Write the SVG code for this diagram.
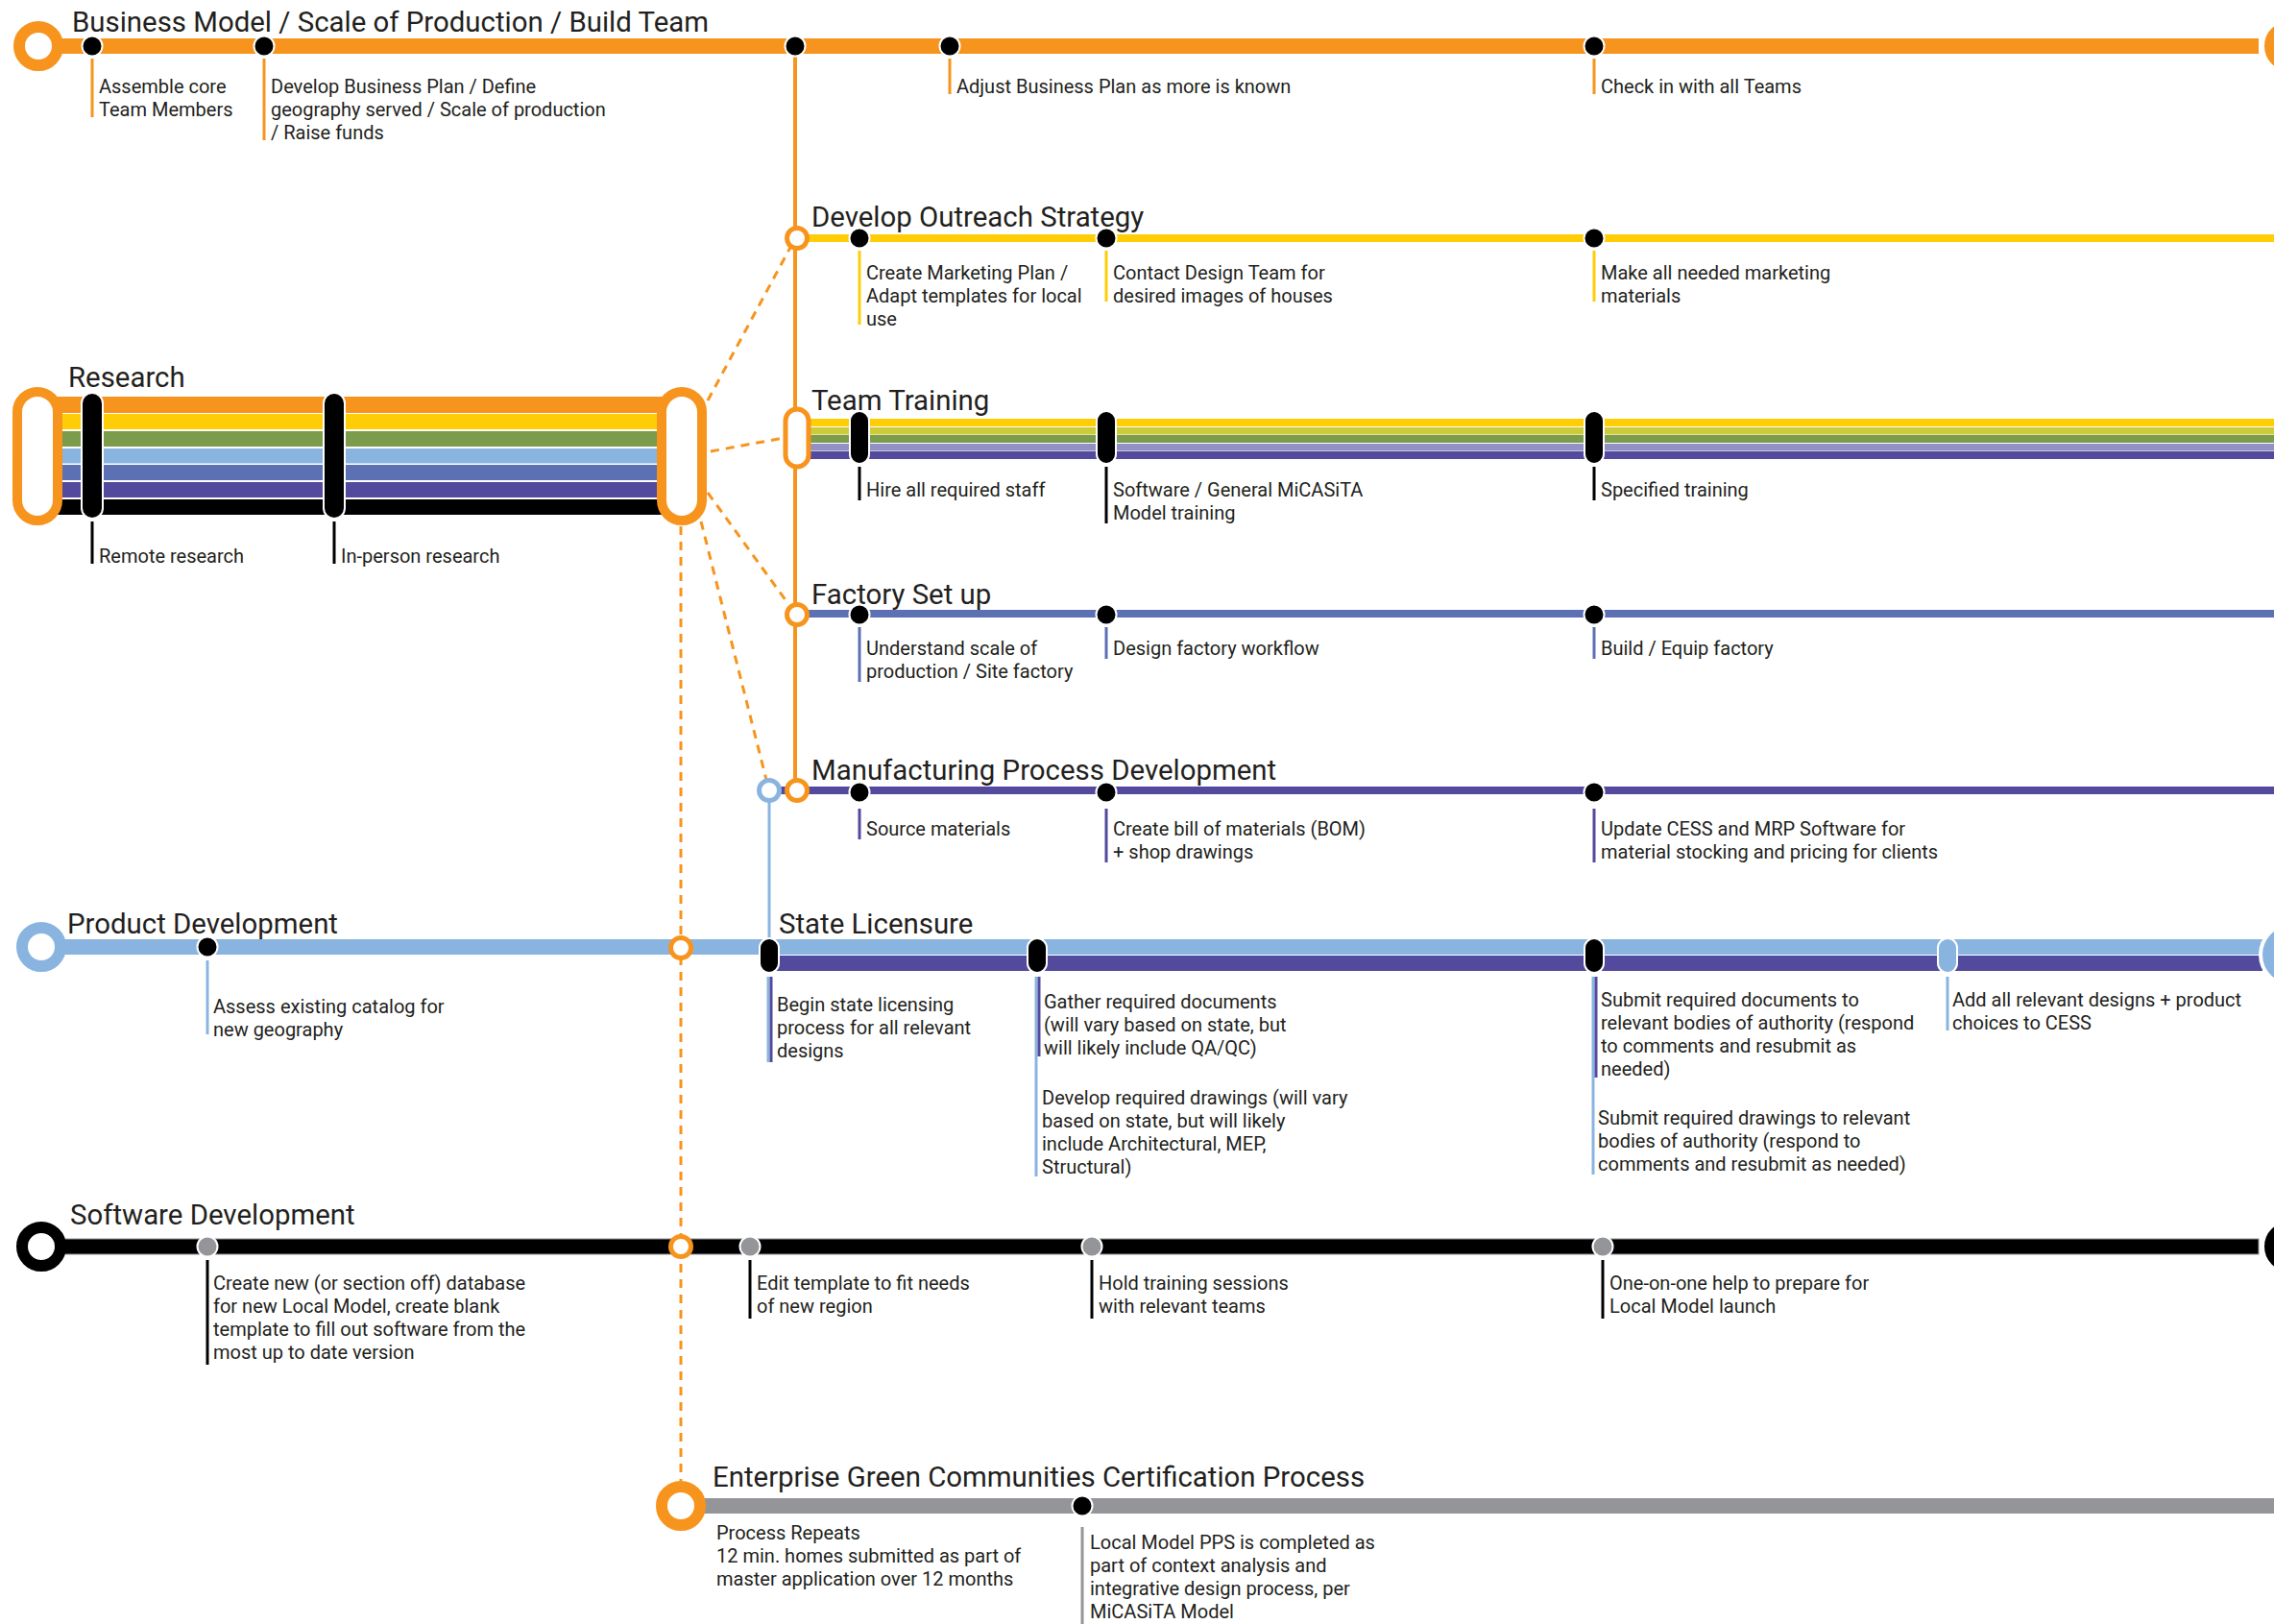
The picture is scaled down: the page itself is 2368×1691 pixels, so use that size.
<svg xmlns="http://www.w3.org/2000/svg" width="2368" height="1691" viewBox="0 0 2368 1691">
<style>
.t{font-family:Roboto,"Liberation Sans",sans-serif;fill:#231F20}
.title{font-size:29.4px}
.lbl{font-size:20px}
.dash{stroke:#F7941D;stroke-width:3;stroke-dasharray:9 7;fill:none}
.dot{fill:#000;stroke:#fff;stroke-width:2}
.gdot{fill:#939598;stroke:#fff;stroke-width:2}
.ring{fill:#fff;stroke-width:12}
.sring{fill:#fff;stroke:#F7941D;stroke-width:5}
.pill{fill:#000;stroke:#fff;stroke-width:2}
.tk{stroke-width:3;fill:none}
</style>
<rect width="2368" height="1691" fill="#fff"/>

<g id="connectors">
  <line x1="828" y1="56" x2="828" y2="823" stroke="#F7941D" stroke-width="4"/>
  <line x1="801" y1="823" x2="801" y2="980" stroke="#8AB4E0" stroke-width="3"/>
  <line class="dash" x1="737" y1="417" x2="826" y2="252"/>
  <line class="dash" x1="740" y1="470" x2="816" y2="456"/>
  <line class="dash" x1="737" y1="513" x2="821" y2="629"/>
  <line class="dash" x1="730" y1="543" x2="798" y2="812"/>
  <line class="dash" x1="709" y1="548" x2="709" y2="1542"/>
</g>

<g id="business-model">
  <rect x="40" y="40" width="2312" height="16" fill="#F7941D"/>
  <circle class="ring" cx="40" cy="48" r="20" stroke="#F7941D"/>
  <circle cx="2384" cy="48" r="29" fill="#fff"/>
  <circle class="ring" cx="2384" cy="48" r="20" stroke="#F7941D"/>
  <text class="t title" x="75" y="33">Business Model / Scale of Production / Build Team</text>
  <circle class="dot" cx="96" cy="48" r="10.5"/>
  <circle class="dot" cx="275" cy="48" r="10.5"/>
  <circle class="dot" cx="828" cy="48" r="10.5"/>
  <circle class="dot" cx="989" cy="48" r="10.5"/>
  <circle class="dot" cx="1660" cy="48" r="10.5"/>
  <g stroke="#F7941D" class="tk">
    <line x1="96" y1="61" x2="96" y2="122"/>
    <line x1="275" y1="61" x2="275" y2="146"/>
    <line x1="989" y1="61" x2="989" y2="98"/>
    <line x1="1660" y1="61" x2="1660" y2="98"/>
  </g>
  <text class="t lbl" x="103" y="97">Assemble core<tspan x="103" dy="24">Team Members</tspan></text>
  <text class="t lbl" x="282" y="97">Develop Business Plan / Define<tspan x="282" dy="24">geography served / Scale of production</tspan><tspan x="282" dy="24">/ Raise funds</tspan></text>
  <text class="t lbl" x="996" y="97">Adjust Business Plan as more is known</text>
  <text class="t lbl" x="1667" y="97">Check in with all Teams</text>
</g>

<g id="research">
  <rect x="40" y="413" width="670" height="17" fill="#F7941D"/>
  <rect x="40" y="431" width="670" height="16" fill="#FFCD05"/>
  <rect x="40" y="449" width="670" height="16" fill="#7A9C4B"/>
  <rect x="40" y="467" width="670" height="15.5" fill="#8AB4E0"/>
  <rect x="40" y="484" width="670" height="16" fill="#5C70B4"/>
  <rect x="40" y="502" width="670" height="16" fill="#534A9D"/>
  <rect x="40" y="520" width="670" height="16" fill="#000"/>
  <rect x="18" y="408" width="42" height="134" rx="21" fill="#fff" stroke="#F7941D" stroke-width="10"/>
  <rect x="689" y="408" width="42" height="134" rx="21" fill="#fff" stroke="#F7941D" stroke-width="10"/>
  <rect class="pill" x="85" y="409" width="22" height="131" rx="11"/>
  <rect class="pill" x="337" y="409" width="22" height="131" rx="11"/>
  <text class="t title" x="71" y="403">Research</text>
  <g stroke="#000" class="tk">
    <line x1="96" y1="543" x2="96" y2="587"/>
    <line x1="348" y1="543" x2="348" y2="587"/>
  </g>
  <text class="t lbl" x="103" y="586">Remote research</text>
  <text class="t lbl" x="355" y="586">In-person research</text>
</g>

<g id="outreach">
  <rect x="830" y="244" width="1538" height="8" fill="#FFCD05"/>
  <circle class="sring" cx="830" cy="248" r="10.5"/>
  <text class="t title" x="845" y="236">Develop Outreach Strategy</text>
  <circle class="dot" cx="895" cy="248" r="10.5"/>
  <circle class="dot" cx="1152" cy="248" r="10.5"/>
  <circle class="dot" cx="1660" cy="248" r="10.5"/>
  <g stroke="#FFCD05" class="tk">
    <line x1="895" y1="261" x2="895" y2="338"/>
    <line x1="1152" y1="261" x2="1152" y2="314"/>
    <line x1="1660" y1="261" x2="1660" y2="314"/>
  </g>
  <text class="t lbl" x="902" y="291">Create Marketing Plan /<tspan x="902" dy="24">Adapt templates for local</tspan><tspan x="902" dy="24">use</tspan></text>
  <text class="t lbl" x="1159" y="291">Contact Design Team for<tspan x="1159" dy="24">desired images of houses</tspan></text>
  <text class="t lbl" x="1667" y="291">Make all needed marketing<tspan x="1667" dy="24">materials</tspan></text>
</g>

<g id="team-training">
  <rect x="830" y="436" width="1538" height="8" fill="#FFCD05"/>
  <rect x="830" y="445" width="1538" height="7.5" fill="#CBCB3C"/>
  <rect x="830" y="453" width="1538" height="8" fill="#7A9C4B"/>
  <rect x="830" y="462" width="1538" height="7.5" fill="#9390C6"/>
  <rect x="830" y="470" width="1538" height="8" fill="#534A9D"/>
  <rect x="818" y="426" width="24" height="60" rx="12" fill="#fff" stroke="#F7941D" stroke-width="5"/>
  <text class="t title" x="845" y="427">Team Training</text>
  <rect class="pill" x="885" y="428" width="20" height="55" rx="10"/>
  <rect class="pill" x="1142" y="428" width="20" height="55" rx="10"/>
  <rect class="pill" x="1650" y="428" width="20" height="55" rx="10"/>
  <g stroke="#000" class="tk">
    <line x1="895" y1="486" x2="895" y2="521"/>
    <line x1="1152" y1="486" x2="1152" y2="545"/>
    <line x1="1660" y1="486" x2="1660" y2="521"/>
  </g>
  <text class="t lbl" x="902" y="517">Hire all required staff</text>
  <text class="t lbl" x="1159" y="517">Software / General MiCASiTA<tspan x="1159" dy="24">Model training</tspan></text>
  <text class="t lbl" x="1667" y="517">Specified training</text>
</g>

<g id="factory-setup">
  <rect x="830" y="635" width="1538" height="8" fill="#5C70B4"/>
  <circle class="sring" cx="830" cy="640" r="10.5"/>
  <text class="t title" x="845" y="629">Factory Set up</text>
  <circle class="dot" cx="895" cy="640" r="10.5"/>
  <circle class="dot" cx="1152" cy="640" r="10.5"/>
  <circle class="dot" cx="1660" cy="640" r="10.5"/>
  <g stroke="#5C70B4" class="tk">
    <line x1="895" y1="653" x2="895" y2="710"/>
    <line x1="1152" y1="653" x2="1152" y2="686"/>
    <line x1="1660" y1="653" x2="1660" y2="686"/>
  </g>
  <text class="t lbl" x="902" y="682">Understand scale of<tspan x="902" dy="24">production / Site factory</tspan></text>
  <text class="t lbl" x="1159" y="682">Design factory workflow</text>
  <text class="t lbl" x="1667" y="682">Build / Equip factory</text>
</g>

<g id="manufacturing">
  <rect x="801" y="819" width="1567" height="8" fill="#534A9D"/>
  <circle cx="801" cy="823" r="10.5" fill="#fff" stroke="#8AB4E0" stroke-width="5"/>
  <circle class="sring" cx="830" cy="823" r="10.5"/>
  <text class="t title" x="845" y="812">Manufacturing Process Development</text>
  <circle class="dot" cx="895" cy="825" r="10.5"/>
  <circle class="dot" cx="1152" cy="825" r="10.5"/>
  <circle class="dot" cx="1660" cy="825" r="10.5"/>
  <g stroke="#534A9D" class="tk">
    <line x1="895" y1="842" x2="895" y2="874"/>
    <line x1="1152" y1="842" x2="1152" y2="898"/>
    <line x1="1660" y1="842" x2="1660" y2="898"/>
  </g>
  <text class="t lbl" x="902" y="870">Source materials</text>
  <text class="t lbl" x="1159" y="870">Create bill of materials (BOM)<tspan x="1159" dy="24">+ shop drawings</tspan></text>
  <text class="t lbl" x="1667" y="870">Update CESS and MRP Software for<tspan x="1667" dy="24">material stocking and pricing for clients</tspan></text>
</g>

<g id="product-development">
  <rect x="40" y="978" width="2316" height="16" fill="#8AB4E0"/>
  <circle class="ring" cx="43" cy="986" r="20" stroke="#8AB4E0"/>
  <text class="t title" x="70" y="972">Product Development</text>
  <circle class="dot" cx="216" cy="986" r="10.5"/>
  <line class="tk" stroke="#8AB4E0" x1="216" y1="1000" x2="216" y2="1077"/>
  <text class="t lbl" x="222" y="1055">Assess existing catalog for<tspan x="222" dy="24">new geography</tspan></text>
  <circle class="sring" cx="709" cy="987" r="10.5"/>
</g>

<g id="state-licensure">
  <rect x="801" y="995" width="1555" height="16" fill="#534A9D"/>
  <circle cx="2386" cy="994" r="34" fill="#fff"/>
  <circle class="ring" cx="2386" cy="994" r="24" stroke="#8AB4E0"/>
  <rect class="pill" x="791" y="977" width="20" height="36" rx="10"/>
  <rect class="pill" x="1070" y="977" width="20" height="36" rx="10"/>
  <rect class="pill" x="1650" y="977" width="20" height="36" rx="10"/>
  <rect x="2018" y="977" width="20" height="36" rx="10" fill="#8AB4E0" stroke="#fff" stroke-width="2"/>
  <text class="t title" x="811" y="972">State Licensure</text>
  <g class="tk" stroke-width="2">
    <line x1="800" y1="1017" x2="800" y2="1106" stroke="#8AB4E0"/>
    <line x1="803" y1="1017" x2="803" y2="1106" stroke="#534A9D"/>
    <line x1="1079" y1="1017" x2="1079" y2="1225" stroke="#8AB4E0"/>
    <line x1="1082" y1="1017" x2="1082" y2="1100" stroke="#534A9D"/>
    <line x1="1659" y1="1017" x2="1659" y2="1223" stroke="#8AB4E0"/>
    <line x1="1662" y1="1017" x2="1662" y2="1122" stroke="#534A9D"/>
    <line x1="2028" y1="1017" x2="2028" y2="1073" stroke="#8AB4E0"/>
  </g>
  <text class="t lbl" x="809" y="1053">Begin state licensing<tspan x="809" dy="24">process for all relevant</tspan><tspan x="809" dy="24">designs</tspan></text>
  <text class="t lbl" x="1087" y="1050">Gather required documents<tspan x="1087" dy="24">(will vary based on state, but</tspan><tspan x="1087" dy="24">will likely include QA/QC)</tspan></text>
  <text class="t lbl" x="1085" y="1150">Develop required drawings (will vary<tspan x="1085" dy="24">based on state, but will likely</tspan><tspan x="1085" dy="24">include Architectural, MEP,</tspan><tspan x="1085" dy="24">Structural)</tspan></text>
  <text class="t lbl" x="1667" y="1048">Submit required documents to<tspan x="1667" dy="24">relevant bodies of authority (respond</tspan><tspan x="1667" dy="24">to comments and resubmit as</tspan><tspan x="1667" dy="24">needed)</tspan></text>
  <text class="t lbl" x="1664" y="1171">Submit required drawings to relevant<tspan x="1664" dy="24">bodies of authority (respond to</tspan><tspan x="1664" dy="24">comments and resubmit as needed)</tspan></text>
  <text class="t lbl" x="2033" y="1048">Add all relevant designs + product<tspan x="2033" dy="24">choices to CESS</tspan></text>
</g>

<g id="software-development">
  <rect x="40" y="1290" width="2312" height="16" fill="#000" stroke="#939598" stroke-width="1"/>
  <circle class="ring" cx="43" cy="1298" r="20" stroke="#000"/>
  <circle cx="2384" cy="1298" r="29" fill="#fff"/>
  <circle class="ring" cx="2384" cy="1298" r="20" stroke="#000"/>
  <text class="t title" x="73" y="1275">Software Development</text>
  <circle class="gdot" cx="216" cy="1298" r="10.5"/>
  <circle class="gdot" cx="781" cy="1298" r="10.5"/>
  <circle class="gdot" cx="1137" cy="1298" r="10.5"/>
  <circle class="gdot" cx="1669" cy="1298" r="10.5"/>
  <circle class="sring" cx="709" cy="1298" r="10.5"/>
  <g stroke="#000" class="tk" stroke-width="2.5">
    <line x1="216" y1="1312" x2="216" y2="1421"/>
    <line x1="781" y1="1312" x2="781" y2="1373"/>
    <line x1="1137" y1="1312" x2="1137" y2="1373"/>
    <line x1="1669" y1="1312" x2="1669" y2="1373"/>
  </g>
  <text class="t lbl" x="222" y="1343">Create new (or section off) database<tspan x="222" dy="24">for new Local Model, create blank</tspan><tspan x="222" dy="24">template to fill out software from the</tspan><tspan x="222" dy="24">most up to date version</tspan></text>
  <text class="t lbl" x="788" y="1343">Edit template to fit needs<tspan x="788" dy="24">of new region</tspan></text>
  <text class="t lbl" x="1144" y="1343">Hold training sessions<tspan x="1144" dy="24">with relevant teams</tspan></text>
  <text class="t lbl" x="1676" y="1343">One-on-one help to prepare for<tspan x="1676" dy="24">Local Model launch</tspan></text>
</g>

<g id="enterprise-green">
  <rect x="709" y="1560" width="1659" height="16" fill="#939598"/>
  <circle class="ring" cx="709" cy="1568" r="20" stroke="#F7941D"/>
  <text class="t title" x="742" y="1548">Enterprise Green Communities Certification Process</text>
  <circle class="dot" cx="1127" cy="1568" r="10.5"/>
  <line class="tk" stroke="#939598" stroke-width="2.5" x1="1127" y1="1590" x2="1127" y2="1691"/>
  <text class="t lbl" x="746" y="1603">Process Repeats<tspan x="746" dy="24">12 min. homes submitted as part of</tspan><tspan x="746" dy="24">master application over 12 months</tspan></text>
  <text class="t lbl" x="1135" y="1613">Local Model PPS is completed as<tspan x="1135" dy="24">part of context analysis and</tspan><tspan x="1135" dy="24">integrative design process, per</tspan><tspan x="1135" dy="24">MiCASiTA Model</tspan></text>
</g>
</svg>
